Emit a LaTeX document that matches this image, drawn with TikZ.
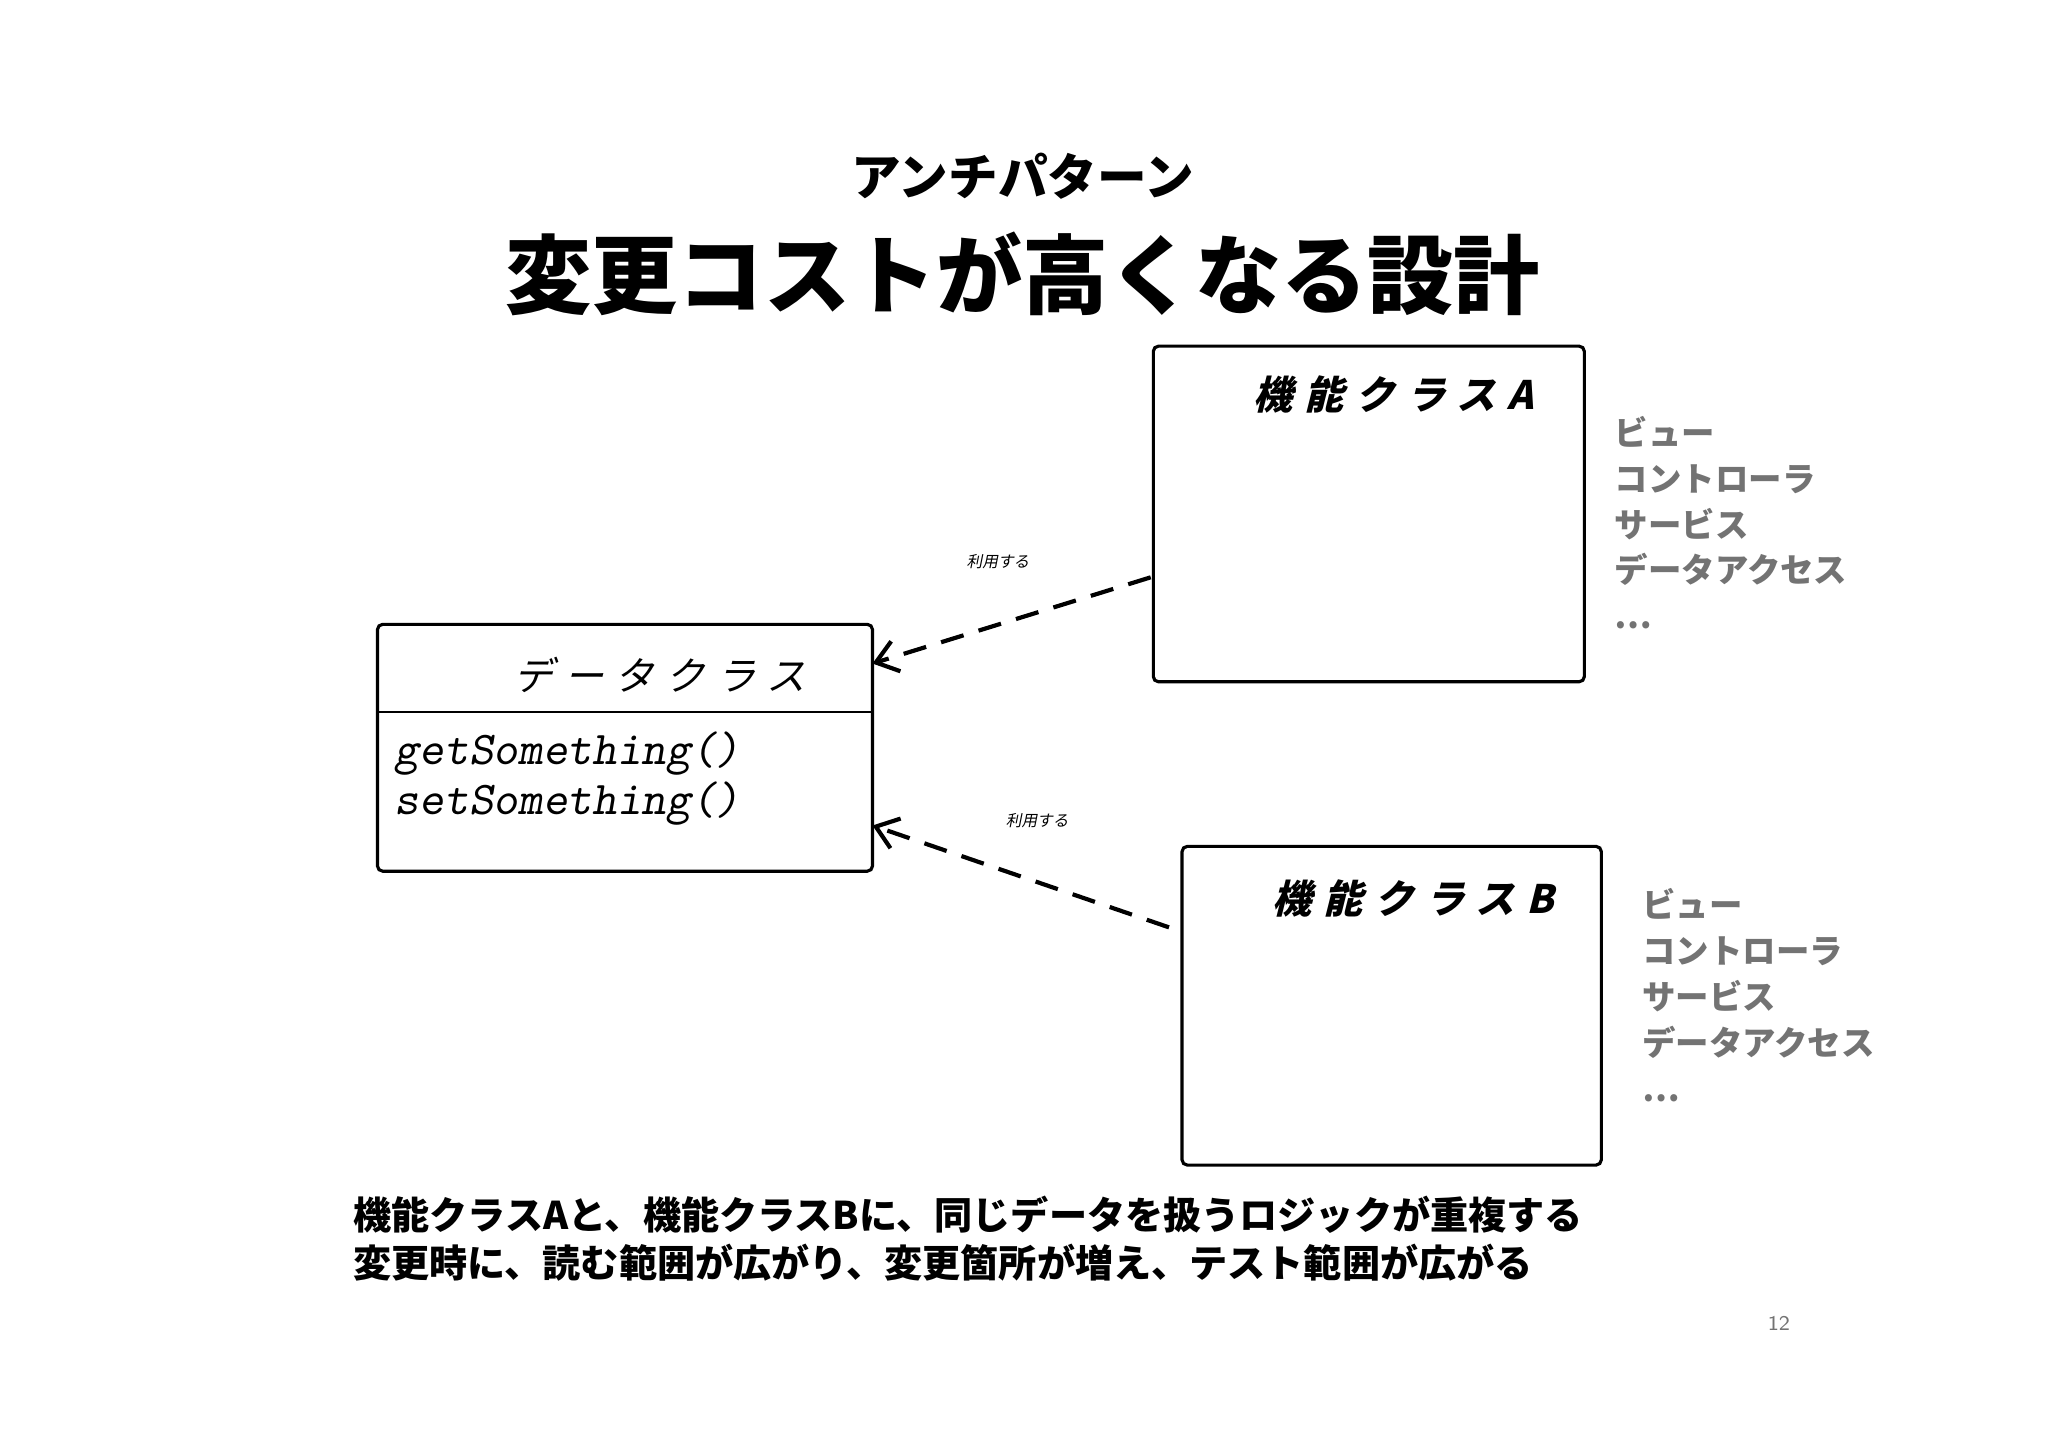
\documentclass[tikz,border=0pt]{standalone}
\usepackage{fontspec}
\newfontfamily\jp{Noto Sans CJK JP}
\newfontfamily\jpw[LetterSpace=30]{Noto Sans CJK JP}
\usetikzlibrary{arrows.meta}
\begin{document}
\begin{tikzpicture}[x=0.5pt,y=-0.5pt,
  box/.style={draw,line width=1.2pt,rounded corners=2pt},
  hand/.style={xslant=0.25},
  side/.style={font=\jp\bfseries\fontsize{12.8}{17.6}\selectfont,text=black!55,align=left,anchor=north west,inner sep=0},
  dep/.style={dashed,dash pattern=on 9pt off 6pt,line width=1.6pt,-{Straight Barb[length=8pt,width=12pt]}},
  small/.style={font=\jp\fontsize{6}{6}\selectfont,xslant=0.2}]
\useasboundingbox (0,0) rectangle (1568,1108);
\node[font=\jp\bfseries\fontsize{19}{19}\selectfont] (sub) at (783,135) {アンチパターン};
\node[font=\jp\bfseries\fontsize{33}{33}\selectfont] (title) at (783,210) {変更コストが高くなる設計};
% boxes
\draw[box] (883,265) rectangle (1213,522);
\coordinate (Aleft) at (881,442);
\node[hand,font=\jpw\bfseries\fontsize{15}{15}\selectfont] (Alab) at (1070,302) {機能クラスA};
\draw[box] (289,478) rectangle (668,667);
\draw[line width=1pt] (289,545) -- (668,545);
\node[hand,font=\jpw\fontsize{15}{15}\selectfont] (Dlab) at (508,517) {データクラス};
\coordinate (Dr1) at (668,508);
\coordinate (Dr2) at (668,632);
\node[font=\ttfamily\slshape\fontsize{18}{19}\selectfont,align=left,anchor=north west,inner sep=0] (meth) at (302,560) {getSomething()\\setSomething()};
\draw[box] (905,648) rectangle (1226,892);
\coordinate (Bleft) at (895,710);
\node[hand,font=\jpw\bfseries\fontsize{15}{15}\selectfont] (Blab) at (1085,688) {機能クラスB};
% arrows
\draw[dep] (Aleft) -- (Dr1);
\draw[dep] (Bleft) -- (Dr2);
\node[small] (u1) at (765,430) {利用する};
\node[small] (u2) at (795,628) {利用する};
% side lists
\node[side] (sa) at (1236,318) {ビュー\\コントローラ\\サービス\\データアクセス\\…};
\node[side] (sb) at (1257,680) {ビュー\\コントローラ\\サービス\\データアクセス\\…};
% bottom
\node[font=\jp\bfseries\fontsize{14.6}{18.5}\selectfont,align=left,anchor=north west,inner sep=0] (bot) at (270,915) {機能クラスAと、機能クラスBに、同じデータを扱うロジックが重複する\\変更時に、読む範囲が広がり、変更箇所が増え、テスト範囲が広がる};
\node[font=\sffamily\fontsize{8}{8}\selectfont,text=black!55] (pg) at (1362,1013) {12};
\end{tikzpicture}
\end{document}
